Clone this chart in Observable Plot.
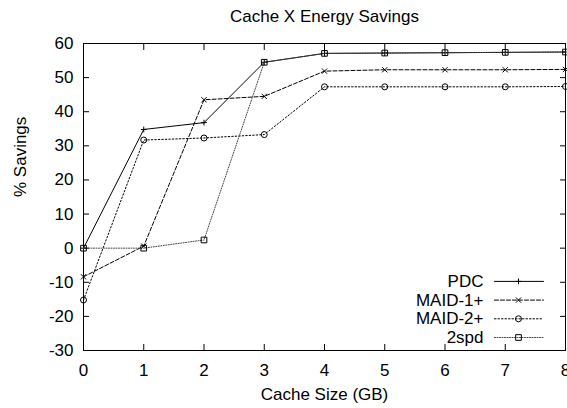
<!DOCTYPE html>
<html>
<head>
<meta charset="utf-8">
<script src="https://cdn.jsdelivr.net/npm/d3@7"></script>
<script src="https://cdn.jsdelivr.net/npm/@observablehq/plot@0.6"></script>
<style>
  html, body { margin: 0; padding: 0; background: #fff; }
</style>
</head>
<body>
<div id="chart"></div>
<script>
// Energy savings (%) for each cache size (GB), per policy
const cacheSizes = [0, 1, 2, 3, 4, 5, 6, 7, 8];
const pdc    = [0, 34.8, 36.8, 54.5, 57.1, 57.2, 57.3, 57.4, 57.5];
const maid1  = [-8.4, 0.6, 43.5, 44.5, 51.9, 52.3, 52.3, 52.3, 52.4];
const maid2  = [-15.2, 31.7, 32.3, 33.3, 47.3, 47.3, 47.3, 47.3, 47.4];
const twoSpd = [0, 0, 2.4, 54.5, 57.1, 57.2, 57.3, 57.4, 57.5];

const seriesNames = ["PDC", "MAID-1+", "MAID-2+", "2spd"];
const xTicks = [0, 1, 2, 3, 4, 5, 6, 7, 8];
const yTicks = [-30, -20, -10, 0, 10, 20, 30, 40, 50, 60];

const title = "Cache X Energy Savings";
const xLabel = "Cache Size (GB)";
const yLabel = "% Savings";

// Line and point style for each series
const styles = [
  {values: pdc,    color: "#000", dash: null,    symbol: "plus",   r: 2},
  {values: maid1,  color: "#000", dash: "4,2",   symbol: "times",  r: 2.5},
  {values: maid2,  color: "#000", dash: "1.5,2", symbol: "circle", r: 3},
  {values: twoSpd, color: "#444", dash: "1,1.5", symbol: "square", r: 3.2}
];

const rows = (values) => cacheSizes.map((c, i) => ({x: c, y: values[i]}));

// plain hyphen for negative tick labels
const plainNumber = (d) => String(d);

// short horizontal line used as a legend sample
const hLine = {draw(context, l) { context.moveTo(0, 0); context.lineTo(0, -l); }};

const marks = [
  Plot.frame({stroke: "#000", strokeWidth: 1}),
  Plot.axisX({ticks: xTicks, tickSize: -6, tickPadding: 19, tickFormat: plainNumber, label: null}),
  Plot.axisX({anchor: "top", ticks: xTicks, tickSize: -6, tickFormat: () => "", label: null}),
  Plot.axisY({ticks: yTicks, tickSize: -6, tickPadding: 16, tickFormat: plainNumber, label: null}),
  Plot.axisY({anchor: "right", ticks: yTicks, tickSize: -6, tickFormat: () => "", label: null}),
  Plot.text([title], {frameAnchor: "top", dy: -27, lineAnchor: "middle", fontSize: 17}),
  Plot.text([xLabel], {frameAnchor: "bottom", dy: 44, lineAnchor: "middle", fontSize: 17}),
  Plot.text([yLabel], {frameAnchor: "left", dx: -63, rotate: -90, lineAnchor: "middle", fontSize: 17})
];

styles.forEach((s, i) => {
  const data = rows(s.values);
  marks.push(
    Plot.line(data, {x: "x", y: "y", stroke: s.color, strokeWidth: 1, strokeDasharray: s.dash}),
    Plot.dot(data, {x: "x", y: "y", symbol: s.symbol, r: s.r, stroke: "#000", fill: "none", strokeWidth: 1})
  );
  // legend entry, stacked upward from the lower right corner
  const dy = -13 - 18.7 * (styles.length - 1 - i);
  marks.push(
    Plot.text([seriesNames[i]], {frameAnchor: "bottom-right", dx: -82, dy, textAnchor: "end", lineAnchor: "middle", fontSize: 17}),
    Plot.vector([0], {frameAnchor: "bottom-right", dx: -71, dy, length: 49, rotate: 90, anchor: "start", shape: hLine, stroke: s.color, strokeWidth: 1, strokeDasharray: s.dash}),
    Plot.dot([0], {frameAnchor: "bottom-right", dx: -47, dy, symbol: s.symbol, r: s.r, stroke: "#000", fill: "none", strokeWidth: 1})
  );
});

const chart = Plot.plot({
  width: 567,
  height: 408,
  marginLeft: 83,
  marginRight: 2,
  marginTop: 43,
  marginBottom: 58,
  style: {fontFamily: "'Liberation Sans', Arial, sans-serif", fontSize: "17px", background: "#fff", color: "#000"},
  x: {domain: [0, 8]},
  y: {domain: [-30, 60]},
  marks
});
document.getElementById("chart").appendChild(chart);
</script>
</body>
</html>
